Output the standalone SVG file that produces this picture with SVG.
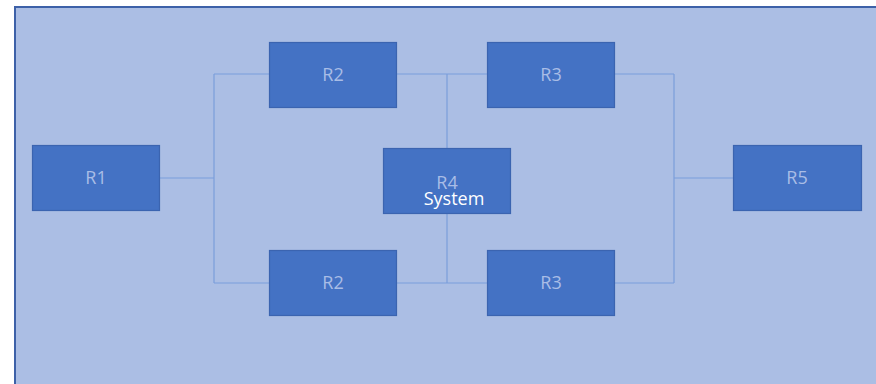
<svg xmlns="http://www.w3.org/2000/svg" width="876" height="384" viewBox="0 0 876 384">
  <style>
    .frame { fill: #abbee4; stroke: #3d61a8; stroke-width: 2; }
    .box { fill: #4472c4; stroke: #3b64b0; stroke-width: 1.2; }
    .lbl { font-family: "Open Sans", "Noto Sans", sans-serif; font-size: 18px; fill: #a9bde6; text-anchor: middle; }
    .sys { font-family: "Open Sans", "Noto Sans", sans-serif; font-size: 18px; fill: #ffffff; text-anchor: middle; }
    .wire { fill: none; stroke: #7b9edb; stroke-width: 1.2; }
  </style>

  <!-- backdrop panel -->
  <rect class="frame" x="15" y="7" width="880" height="400"/>

  <!-- connectors -->
  <g id="connectors">
    <path class="wire" d="M160 178 H214 M214 74 V283 M214 74 H269 M214 283 H269"/>
    <path class="wire" d="M396 74 H487 M396 283 H487 M447 74 V148 M447 214 V283"/>
    <path class="wire" d="M614 74 H674 M614 283 H674 M674 74 V283 M674 178 H733"/>
  </g>

  <g id="r1">
    <rect class="box" x="32.5" y="145.5" width="127" height="65"/>
    <text class="lbl" x="96" y="184">R1</text>
  </g>
  <g id="r2-top">
    <rect class="box" x="269.5" y="42.5" width="127" height="65"/>
    <text class="lbl" x="333" y="81">R2</text>
  </g>
  <g id="r2-bottom">
    <rect class="box" x="269.5" y="250.5" width="127" height="65"/>
    <text class="lbl" x="333" y="289">R2</text>
  </g>
  <g id="r3-top">
    <rect class="box" x="487.5" y="42.5" width="127" height="65"/>
    <text class="lbl" x="551" y="81">R3</text>
  </g>
  <g id="r3-bottom">
    <rect class="box" x="487.5" y="250.5" width="127" height="65"/>
    <text class="lbl" x="551" y="289">R3</text>
  </g>
  <g id="r4">
    <rect class="box" x="383.5" y="148.5" width="127" height="65"/>
    <text class="lbl" x="447" y="189">R4</text>
    <text class="sys" x="454" y="205">System</text>
  </g>
  <g id="r5">
    <rect class="box" x="733.5" y="145.5" width="128" height="65"/>
    <text class="lbl" x="797" y="184">R5</text>
  </g>
</svg>
